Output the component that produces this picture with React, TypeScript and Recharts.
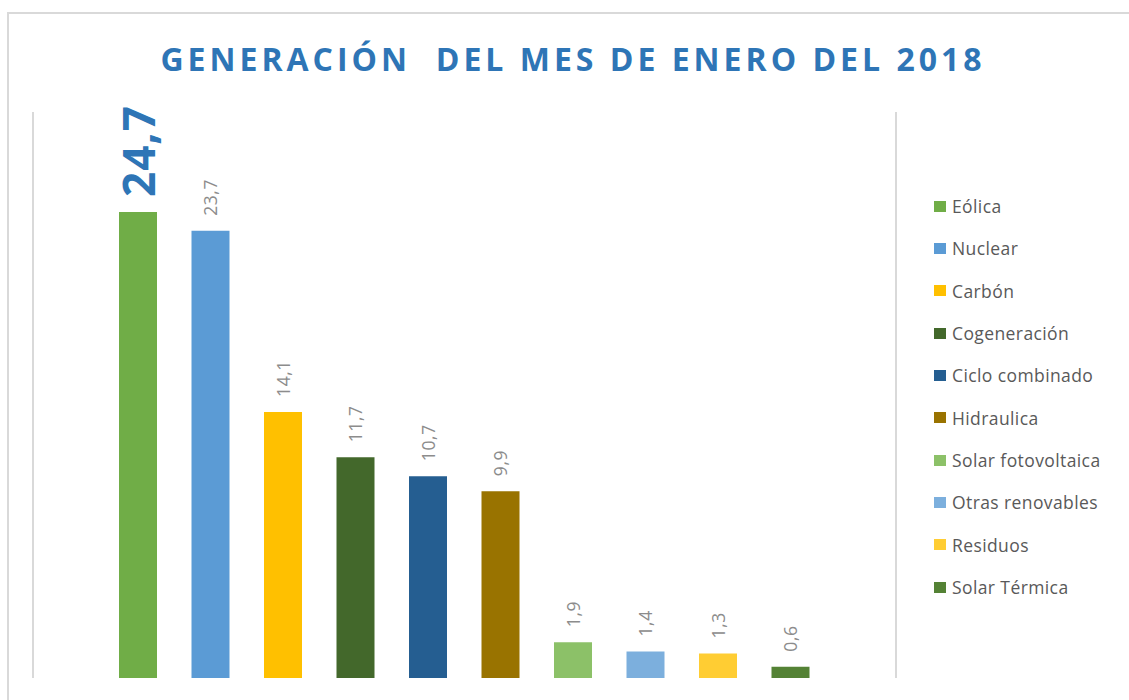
import { Bar, BarChart, Cell, LabelList, XAxis, YAxis } from "recharts"

const categories = [
  "Eólica",
  "Nuclear",
  "Carbón",
  "Cogeneración",
  "Ciclo combinado",
  "Hidraulica",
  "Solar fotovoltaica",
  "Otras renovables",
  "Residuos",
  "Solar Térmica",
]

const values = [24.7, 23.7, 14.1, 11.7, 10.7, 9.9, 1.9, 1.4, 1.3, 0.6]

const colors = [
  "#70AD47",
  "#5B9BD5",
  "#FFC000",
  "#43682B",
  "#255E91",
  "#997300",
  "#8CC168",
  "#7CAFDD",
  "#FFCD33",
  "#548235",
]

const data = categories.map((name, i) => ({ name, value: values[i] }))
const maxValue = Math.max(...values)

function ValueLabel(props: any) {
  const { x, y, width, value } = props
  const cx = Number(x) + Number(width) / 2
  const ty = Number(y) - 15
  const text = String(value).replace(".", ",")
  const big = value === maxValue
  return (
    <text
      x={cx}
      y={ty}
      transform={`rotate(-90, ${cx}, ${ty})`}
      textAnchor="start"
      dominantBaseline="central"
      fontFamily="'Open Sans', sans-serif"
      fontSize={big ? 44 : 17.5}
      fontWeight={big ? 700 : 400}
      fill={big ? "#2E75B6" : "#8C8C8C"}
      letterSpacing={big ? 1 : 0.6}
    >
      {text}
    </text>
  )
}

function LegendList() {
  return (
    <div style={{ display: "flex", flexDirection: "column" }}>
      {categories.map((name, i) => (
        <div
          key={name}
          style={{ height: 42.33, display: "flex", alignItems: "center" }}
        >
          <span
            style={{
              width: 12,
              height: 11,
              background: colors[i],
              marginRight: 6,
              display: "inline-block",
            }}
          />
          <span
            style={{
              fontFamily: "'Open Sans', sans-serif",
              fontSize: 17.5,
              color: "#595959",
              letterSpacing: 0.4,
              whiteSpace: "nowrap",
            }}
          >
            {name}
          </span>
        </div>
      ))}
    </div>
  )
}

export default function App() {
  return (
    <div
      style={{
        position: "absolute",
        left: 0,
        top: 0,
        width: 1129,
        height: 700,
        background: "#fff",
        overflow: "hidden",
      }}
    >
      <div
        style={{
          position: "absolute",
          left: 7,
          top: 12,
          right: 0,
          bottom: -5,
          borderTop: "2px solid #D9D9D9",
          borderLeft: "2px solid #D9D9D9",
        }}
      />
      <div
        style={{
          position: "absolute",
          left: 0,
          width: 1146,
          top: 37,
          textAlign: "center",
          fontFamily: "'Open Sans', sans-serif",
          fontWeight: 700,
          fontSize: 32,
          letterSpacing: 4,
          color: "#2E75B6",
          whiteSpace: "pre",
        }}
      >
        {"GENERACIÓN  DEL MES DE ENERO DEL 2018"}
      </div>
      <div style={{ position: "absolute", left: 0, top: 0 }}>
        <BarChart
          width={1129}
          height={700}
          data={data}
          margin={{ top: 112, right: 232, bottom: 22, left: 32 }}
        >
          <XAxis dataKey="name" hide padding={{ left: 69, right: 69 }} />
          <YAxis
            yAxisId="l"
            domain={[0, 30]}
            width={1}
            tick={false}
            tickLine={false}
            axisLine={{ stroke: "#D9D9D9", strokeWidth: 2 }}
          />
          <YAxis
            yAxisId="r"
            orientation="right"
            domain={[0, 30]}
            width={1}
            tick={false}
            tickLine={false}
            axisLine={{ stroke: "#D9D9D9", strokeWidth: 2 }}
          />
          <Bar dataKey="value" yAxisId="l" barSize={38} isAnimationActive={false}>
            {data.map((d, i) => (
              <Cell key={d.name} fill={colors[i]} />
            ))}
            <LabelList dataKey="value" content={ValueLabel} />
          </Bar>
        </BarChart>
      </div>
      <div style={{ position: "absolute", left: 934, top: 185, width: 195 }}>
        <LegendList />
      </div>
    </div>
  )
}
